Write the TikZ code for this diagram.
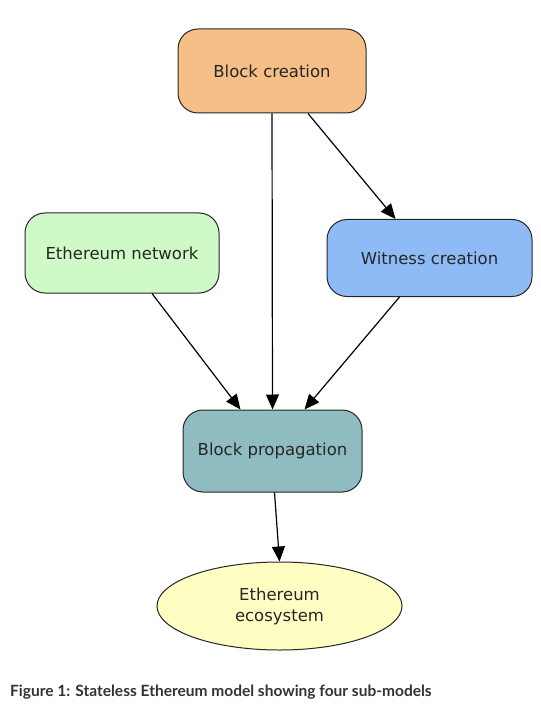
\documentclass[tikz,border=0pt]{standalone}
\usepackage{fontspec}
\setmainfont{DejaVu Sans}
\newfontfamily\capfont{Lato}
\usetikzlibrary{arrows.meta,shapes.geometric}
\definecolor{cOrange}{HTML}{F5BF87}
\definecolor{cGreen}{HTML}{CFFAC7}
\definecolor{cBlue}{HTML}{8EBBF6}
\definecolor{cTeal}{HTML}{8FBCC1}
\definecolor{cYellow}{HTML}{FFFFC4}
\definecolor{cCap}{HTML}{333333}
\tikzset{
  box/.style={draw=black!85, line width=1pt, rounded corners=20pt, font=\fontsize{16.5}{20}\selectfont, text=black!85},
  oval/.style={draw=black!85, line width=1pt, ellipse, font=\fontsize{16.5}{21}\selectfont, text=black!85, align=center},
  link/.style={-{Triangle[length=15pt,width=13pt]}, line width=1.2pt, black},
}
\begin{document}
\begin{tikzpicture}[x=1pt,y=-1pt]
\useasboundingbox[fill=white] (0,0) rectangle (540,711);
\node[box, fill=cOrange, minimum width=188pt, minimum height=84pt] (bc) at (272,71) {Block creation};
\node[box, fill=cGreen, minimum width=194pt, minimum height=80pt] (en) at (122,253) {Ethereum network};
\node[box, fill=cBlue, minimum width=205pt, minimum height=77pt] (wc) at (429.5,258) {Witness creation};
\node[box, fill=cTeal, minimum width=179pt, minimum height=82pt] (bp) at (272.5,451) {Block propagation};
\node[oval, fill=cYellow, minimum width=245pt, minimum height=88pt, inner sep=0pt] (es) at (279.5,606) {Ethereum\\ecosystem};
\node[anchor=west, font=\capfont\bfseries\fontsize{15.5}{18}\selectfont, text=cCap, inner sep=0pt] (cap) at (10,692) {Figure 1: Stateless Ethereum model showing four sub-models};
\draw[link] (bc.south) -- (bp.north);
\draw[link] ([xshift=36pt]bc.south) -- ([xshift=-34pt]wc.north);
\draw[link] ([xshift=30pt]en.south) -- ([xshift=-32pt]bp.north);
\draw[link] ([xshift=-30pt]wc.south) -- ([xshift=32pt]bp.north);
\draw[link] ([xshift=2pt]bp.south) -- (es.north);
\end{tikzpicture}
\end{document}
